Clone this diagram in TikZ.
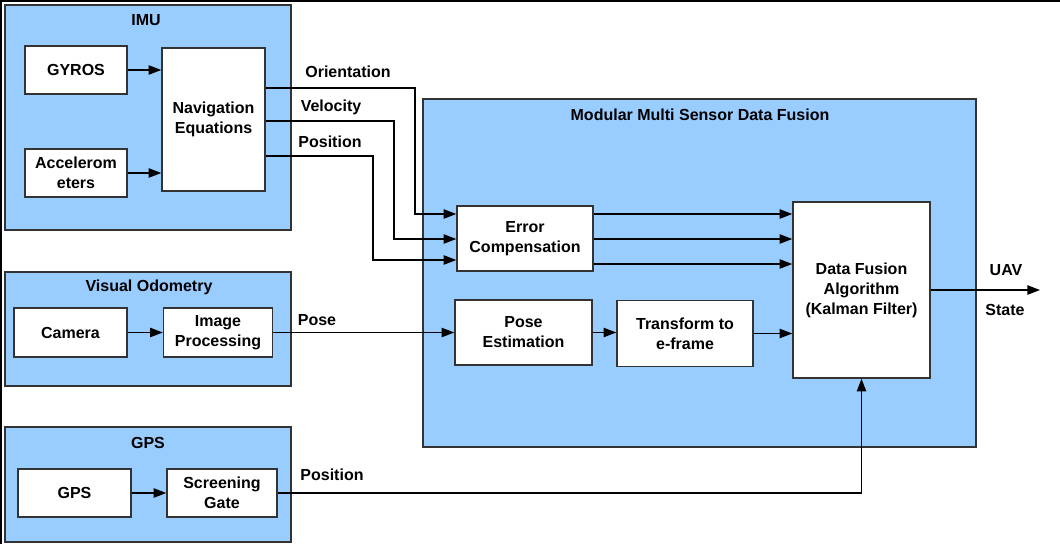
\documentclass[tikz,border=0pt]{standalone}
\usepackage{fontspec}
\setmainfont{Liberation Sans}
\usetikzlibrary{positioning, calc, arrows.meta}
\definecolor{skyblue}{HTML}{99CCFF}
\definecolor{edgegrey}{HTML}{333333}

\begin{document}
\begin{tikzpicture}[
    x=0.75pt, y=-0.75pt,
    >={Triangle[length=9.5pt, width=7pt]},
    block/.style={
        draw=edgegrey,
        fill=white,
        line width=1.1pt,
        align=center,
        inner sep=0pt,
        font=\bfseries\fontsize{12}{15}\selectfont
    },
    group/.style={
        draw=edgegrey,
        fill=skyblue,
        line width=1.1pt
    },
    title/.style={font=\bfseries\fontsize{12}{15}\selectfont},
    signal/.style={font=\bfseries\fontsize{12}{15}\selectfont},
    wire/.style={line width=1.1pt, black}
]

% --- FRAME ---
\useasboundingbox (0,0) rectangle (1060,544);
\fill[white] (0,0) rectangle (1060,544);
\fill[black] (0,0) rectangle (1060,2);
\fill[black] (0,0) rectangle (2,544);

% --- GROUPS ---
\draw[group] (5,5) rectangle (291,230);
\draw[group] (5,272) rectangle (291,386);
\draw[group] (5,427) rectangle (291,542);
\draw[group] (423,99) rectangle (976,447);

\node[title] (imutitle) at (146,20) {IMU};
\node[title] (votitle) at (149,287) {Visual Odometry};
\node[title] (gpstitle) at (148,443) {GPS};
\node[title] (fustitle) at (700,115) {Modular Multi Sensor Data Fusion};

% --- IMU ---
\node[block, minimum width=102*0.75pt, minimum height=48*0.75pt] (gyros) at (76,70) {GYROS};
\node[block, minimum width=102*0.75pt, minimum height=48*0.75pt] (accel) at (76,173) {Accelerom\\eters};
\node[block, minimum width=103*0.75pt, minimum height=143*0.75pt] (nav) at (213.5,119.5) {Navigation\\Equations};

% --- VISUAL ODOMETRY ---
\node[block, minimum width=113*0.75pt, minimum height=49*0.75pt] (camera) at (70.5,332.5) {Camera};
\node[block, minimum width=109*0.75pt, minimum height=49*0.75pt] (improc) at (218,332.5) {Image\\Processing};

% --- GPS ---
\node[block, minimum width=113*0.75pt, minimum height=48*0.75pt] (gpsrx) at (74.5,493) {GPS};
\node[block, minimum width=110*0.75pt, minimum height=48*0.75pt] (gate) at (222,493) {Screening\\Gate};

% --- DATA FUSION ---
\node[block, minimum width=136*0.75pt, minimum height=65*0.75pt] (errc) at (525,238.5) {Error\\Compensation};
\node[block, minimum width=137*0.75pt, minimum height=65*0.75pt] (posest) at (523.5,332.5) {Pose\\Estimation};
\node[block, minimum width=136*0.75pt, minimum height=66*0.75pt] (xform) at (685,333.5) {Transform to\\e-frame};
\node[block, minimum width=137*0.75pt, minimum height=176*0.75pt] (fusion) at (861.5,290) {Data Fusion\\Algorithm\\(Kalman Filter)};

\coordinate (uav) at (1040,290);

% --- SIGNAL LABELS ---
\node[signal] (orilabel) at (348,72) {Orientation};
\node[signal] (vellabel) at (331,107) {Velocity};
\node[signal] (poslabel) at (330,142) {Position};
\node[signal] (poselabel) at (317,320) {Pose};
\node[signal] (gpsposlabel) at (332,475) {Position};
\node[signal] (uavlabel) at (1006,270) {UAV};
\node[signal] (statelabel) at (1005,310) {State};

% --- CONNECTORS ---
\begin{scope}[wire]
    \draw[->] (gyros) -- (gyros -| nav.west);
    \draw[->] (accel) -- (accel -| nav.west);
    \draw[->] (camera) -- (improc);
    \draw[->] (gpsrx) -- (gpsrx -| gate.west);

    \draw[->] (nav.east |- 0,88) -| (415,214) -- (errc.west |- 0,214);
    \draw[->] (nav.east |- 0,121) -| (394,239) -- (errc.west |- 0,239);
    \draw[->] (nav.east |- 0,156) -| (373,260) -- (errc.west |- 0,260);

    \draw[->] (errc.east |- 0,214) -- (fusion.west |- 0,214);
    \draw[->] (errc.east |- 0,239) -- (fusion.west |- 0,239);
    \draw[->] (errc.east |- 0,264) -- (fusion.west |- 0,264);

    \draw[->] (improc) -- (posest);
    \draw[->] (posest) -- (posest -| xform.west);
    \draw[->] (xform) -- (xform -| fusion.west);

    \draw[->] (gate) -| (fusion.south);
    \draw[->] (fusion) -- (uav);
\end{scope}

\end{tikzpicture}
\end{document}
